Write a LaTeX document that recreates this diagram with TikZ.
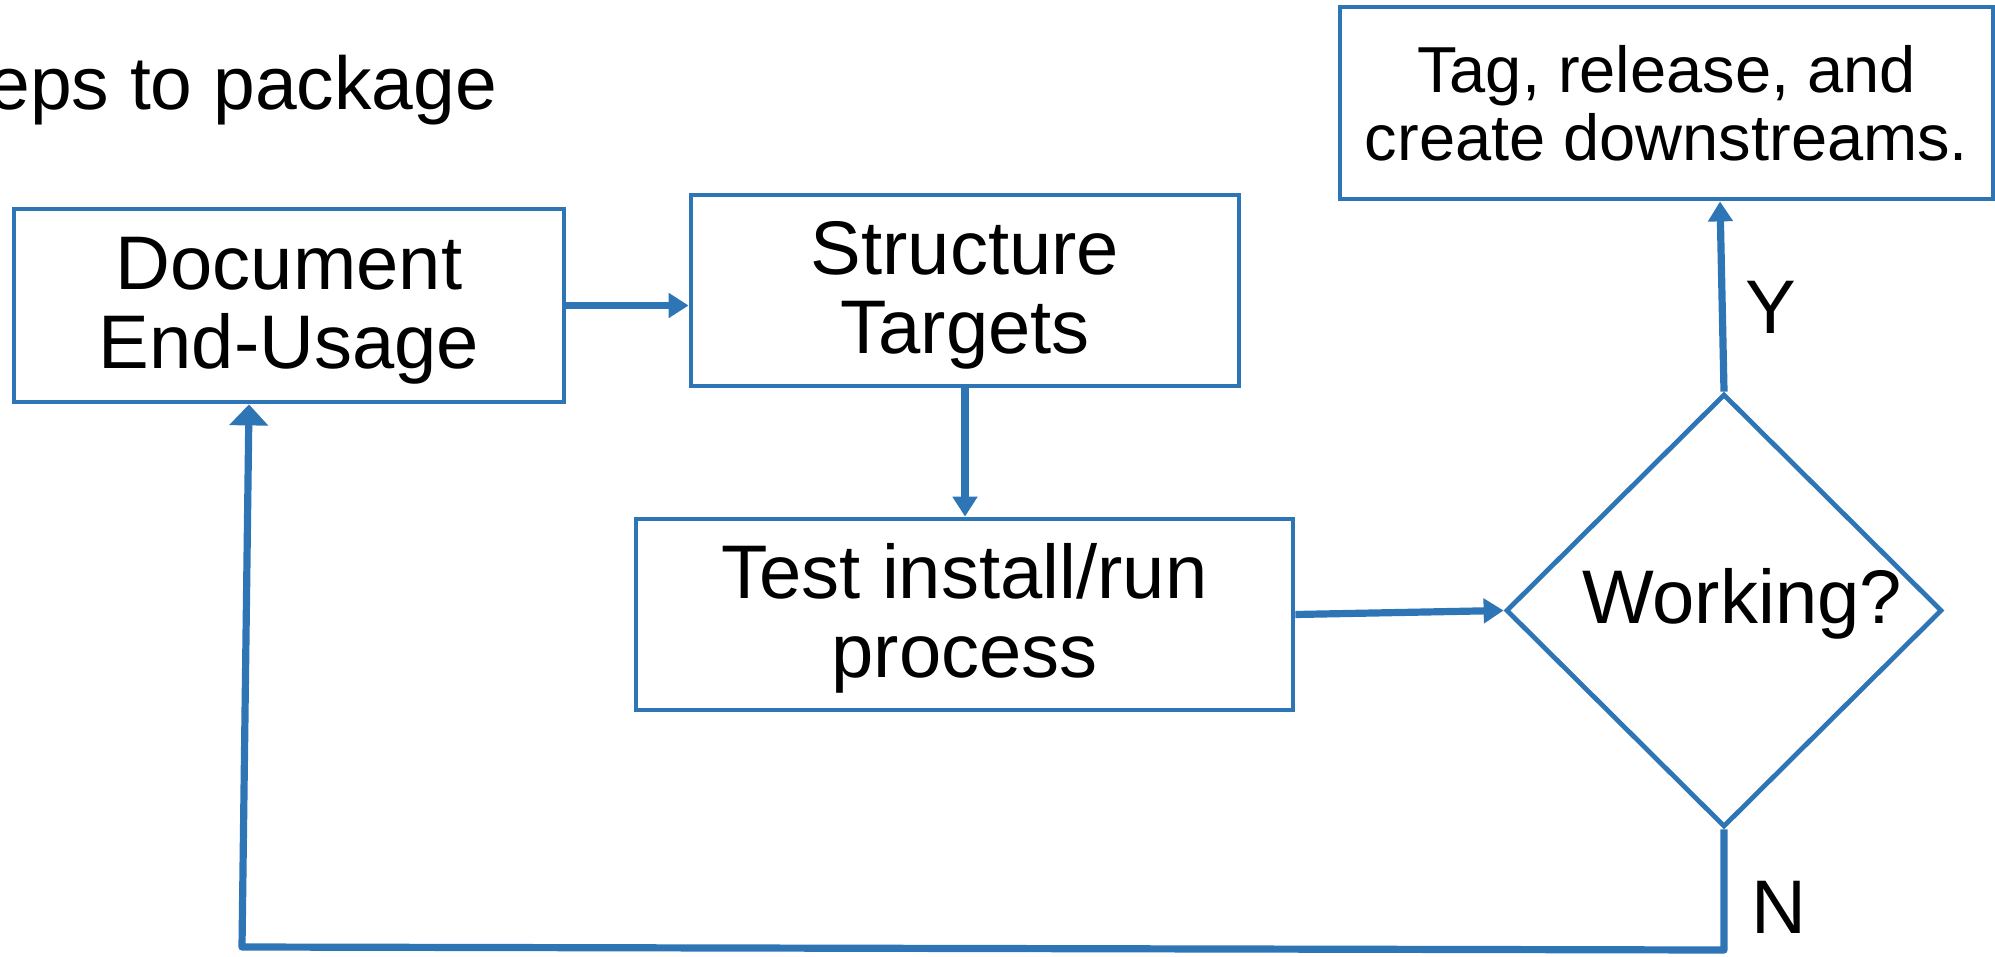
\documentclass[tikz,border=0pt]{standalone}
\usepackage{fontspec}
\setmainfont{Liberation Sans}
\usetikzlibrary{arrows.meta,shapes.geometric}
\definecolor{flowblue}{RGB}{46,117,182}
% a tall strut that sets box text a little lower in its frame
\newcommand{\lowerstrut}{\rule{0pt}{31.7pt}}
\begin{document}
\begin{tikzpicture}[x=0.5pt,y=-0.5pt,
  bigfont/.style={font=\fontsize{38pt}{39.5pt}\selectfont},
  stepbox/.style={draw=flowblue,line width=2.4pt,rectangle,inner sep=0pt,
    align=center,bigfont},
  decision/.style={draw=flowblue,line width=2.4pt,diamond,inner sep=0pt,
    minimum width=218pt,minimum height=216.5pt},
  link/.style={draw=flowblue,line width=3.6pt,line join=round,
    -{Triangle[length=10pt,width=12pt]}},
  plain/.style={inner sep=0pt,bigfont},
]
\useasboundingbox (0,0) rectangle (1995,957);

% heading
\node[plain,anchor=base west,font=\fontsize{37.5pt}{39pt}\selectfont]
  (title) at (-12,110) {eps to package};

% process steps
\node[stepbox,minimum width=275pt,minimum height=96.5pt] (doc) at (289,305.5)
  {\lowerstrut Document\\End-Usage};
\node[stepbox,minimum width=274pt,minimum height=95.5pt] (struct) at (965,290.5)
  {\lowerstrut Structure\\Targets};
\node[stepbox,minimum width=328.5pt,minimum height=95.5pt] (test) at (964.5,614.5)
  {\lowerstrut Test install/run\\process};
\node[stepbox,minimum width=326.5pt,minimum height=96pt,
  font=\fontsize{32.5pt}{34pt}\selectfont] (tag) at (1666.5,103)
  {Tag, release, and\\create downstreams.};

% decision
\node[decision] (work) at (1724,610.5) {};
\node[plain,anchor=base] (worklbl) at (1742,623) {Working?};

% connectors
\draw[link] (doc.east) -- (doc.east -| struct.west);
\draw[link] (struct.south) -- (struct.south |- test.north);
\draw[link] (test.east) -- (work.west);
\draw[link] (work.north) -- ([xshift=-2pt]work.north |- tag.south);
\node[plain,anchor=base] (yes) at (1771,333) {Y};

\coordinate (nturn) at (1724,950);
\coordinate (lturn) at (242,947);
\draw[link,-{Triangle[length=10.5pt,width=19pt]}]
  (work.south) -- (nturn) -- (lturn) -- ([xshift=-20pt]doc.south);
\node[plain,anchor=base] (no) at (1779,933) {N};
\end{tikzpicture}
\end{document}
